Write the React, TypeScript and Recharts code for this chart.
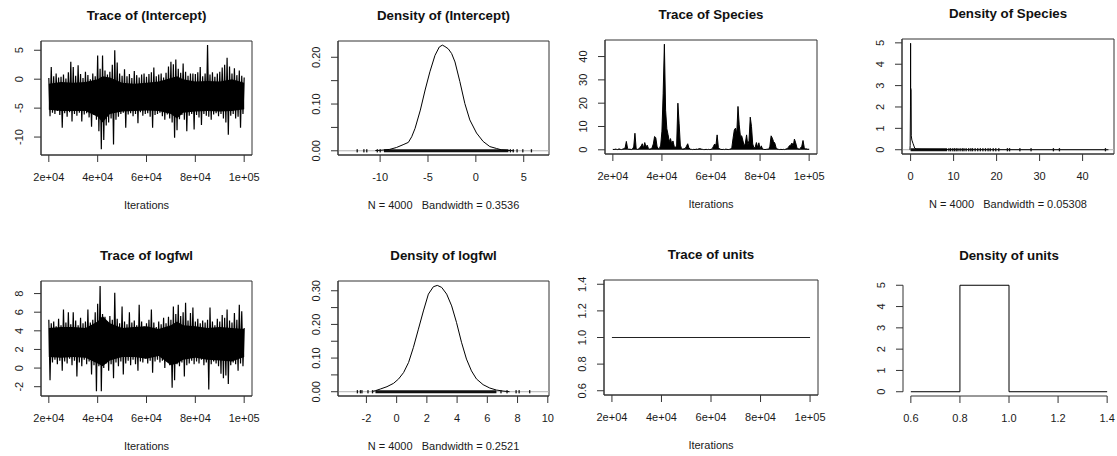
import React from 'react';
import { ComposedChart, Line, Area, XAxis, YAxis, ReferenceLine, ReferenceArea, Scatter } from 'recharts';

const FONT = '"Liberation Sans", Arial, Helvetica, sans-serif';
const INK = '#1a1a1a';
const FRAME = '#333333';

// ---------- data ----------
const iterTicks = [20000, 40000, 60000, 80000, 100000];
const iterTickLabels = ['2e+04', '4e+04', '6e+04', '8e+04', '1e+05'];

// Trace values, one every 500 iterations from 20000 to 100000
const traceIntercept = [
  0.2, -6.4, 2.1, -5.8, 0.5, -6.0, 1.0, -5.5, 0.3, -6.2,
  0.4, -8.4, 0.8, -5.9, 0.1, -6.5, 1.2, -5.7, 3.0, -7.3,
  2.1, -6.0, 0.6, -6.3, 2.4, -5.8, 0.9, -7.3, 0.2, -6.1,
  1.3, -5.9, 0.7, -6.6, 0.0, -8.2, 1.0, -6.2, 0.5, -7.0,
  4.1, -9.0, 1.8, -12.1, 4.1, -10.5, 1.5, -8.0, 0.8, -7.5,
  1.3, -6.8, 2.5, -11.3, 5.0, -7.0, 2.9, -6.5, 1.0, -6.0,
  0.6, -5.8, 1.7, -8.4, 0.5, -6.1, 0.9, -5.9, 0.2, -6.4,
  1.4, -6.0, 0.7, -7.6, 0.3, -5.7, 0.8, -6.3, 1.0, -6.0,
  0.4, -5.9, 0.9, -6.5, 1.2, -8.4, 2.0, -6.2, 0.5, -6.0,
  0.8, -5.8, 1.0, -6.4, 0.3, -7.0, 1.1, -6.1, 2.2, -6.8,
  3.0, -7.5, 2.6, -10.1, 3.4, -8.8, 1.8, -6.9, 1.1, -6.2,
  2.7, -7.0, 1.3, -9.0, 0.6, -6.3, 1.0, -6.0, 1.0, -8.7,
  0.9, -6.2, 1.2, -6.6, 2.1, -7.9, 0.5, -6.0, 1.0, -6.3,
  5.9, -6.5, 0.8, -7.0, 1.2, -6.1, 0.4, -5.9, 1.0, -6.4,
  1.3, -6.0, 2.0, -6.8, 2.5, -7.5, 3.7, -9.6, 2.2, -6.3,
  1.0, -6.0, 1.9, -6.8, 0.7, -6.5, 1.5, -8.4, 0.6, -6.0,
  0.3,
];

// Solid core of the intercept trace band (iterations, low, high)
const coreIter = [20000, 25000, 30000, 35000, 40000, 42000, 45000, 50000, 55000, 60000, 65000, 70000, 72500, 75000, 80000, 85000, 90000, 95000, 100000];
const coreInterceptLow = [-5.3, -5.5, -5.5, -5.5, -6.5, -7.5, -6.0, -5.6, -5.5, -5.4, -5.5, -6.0, -6.8, -5.8, -5.6, -5.5, -5.6, -5.5, -5.2];
const coreInterceptHigh = [-0.8, -0.5, -0.6, -0.5, 0.0, 0.5, 0.3, -0.6, -0.8, -0.6, -0.4, 0.2, 0.5, 0.0, -0.4, -0.3, -0.4, 0.0, -0.6];

const traceSpecies = [
  0.2, 0.1, 0.3, 0.2, 0.1, 0.4, 0.2, 0.1, 0.3, 0.5,
  0.8, 3.6, 0.6, 0.2, 0.3, 0.1, 0.4, 1.2, 7.1, 0.5,
  0.2, 0.3, 1.0, 1.5, 2.6, 0.8, 3.1, 1.2, 2.0, 0.6,
  0.3, 0.4, 1.0, 2.5, 5.7, 5.2, 1.5, 0.4, 0.6, 2.0,
  8.0, 24.0, 45.3, 17.0, 9.0, 6.5, 3.5, 4.8, 2.5, 3.8,
  1.5, 0.8, 2.0, 20.0, 11.4, 2.0, 0.5, 0.3, 0.4, 0.6,
  1.5, 2.6, 0.8, 0.3, 0.2, 0.1, 0.2, 0.1, 0.3, 0.2,
  0.4, 0.5, 0.3, 0.2, 0.1, 0.1, 0.2, 0.1, 0.2, 0.1,
  0.2, 0.5, 1.5, 2.5, 1.8, 6.4, 1.0, 0.4, 0.2, 0.1,
  0.2, 0.1, 0.3, 0.2, 0.1, 0.2, 0.3, 1.0, 5.0, 8.5,
  9.3, 7.0, 18.6, 10.7, 5.7, 6.0, 4.0, 1.5, 2.9, 6.4,
  2.0, 4.0, 14.0, 10.0, 2.5, 0.8, 1.0, 3.1, 1.0, 3.0,
  0.4, 1.7, 0.3, 0.2, 0.1, 0.2, 0.3, 0.2, 1.5, 6.0,
  5.0, 3.5, 2.9, 1.0, 0.3, 0.2, 0.1, 0.2, 0.1, 0.2,
  0.1, 0.3, 0.5, 1.0, 1.8, 2.0, 2.9, 1.5, 4.6, 3.0,
  1.0, 0.4, 0.3, 0.8, 1.5, 4.0, 1.0, 0.3, 0.4, 0.2,
  0.3,
];

const traceLogfwl = [
  5.2, -1.3, 4.8, 0.6, 5.0, 0.9, 4.5, 0.4, 5.3, 0.8,
  4.6, -0.3, 6.3, 0.7, 4.9, 0.5, 6.0, 1.0, 4.7, 0.3,
  6.0, 0.8, 5.1, -0.9, 4.6, 0.6, 5.4, 0.2, 4.8, 0.9,
  5.0, 0.4, 6.3, 0.7, 4.9, -0.7, 5.2, 0.3, 6.0, -2.5,
  6.9, 0.2, 8.8, -2.5, 5.8, 0.0, 5.5, 0.5, 5.0, -0.3,
  5.6, 0.4, 5.2, -1.1, 8.1, 0.6, 5.3, 0.2, 4.8, 0.7,
  6.6, -0.7, 5.0, 0.5, 4.7, 0.8, 6.0, 0.3, 4.9, 0.9,
  5.1, 0.4, 4.6, -0.3, 6.8, 0.7, 5.0, 0.6, 4.5, 1.0,
  4.8, 0.5, 5.2, 0.8, 6.3, -0.5, 4.9, 0.7, 4.4, 0.9,
  5.0, 0.6, 4.7, 0.8, 5.4, 0.0, 4.8, 0.7, 5.5, 0.3,
  5.2, -2.1, 6.6, -1.3, 5.8, 0.4, 6.8, 0.2, 5.6, 0.6,
  6.0, -0.9, 7.0, 0.3, 5.1, 0.5, 5.9, 0.8, 6.5, 0.4,
  5.0, 0.7, 5.3, 0.5, 4.8, 0.9, 5.1, 0.3, 4.9, 0.6,
  5.2, -2.3, 6.5, 0.4, 5.0, 0.7, 4.6, 0.5, 5.3, 0.2,
  5.0, -0.6, 5.7, -1.1, 5.4, -0.8, 6.3, -1.7, 5.1, 0.3,
  4.9, 0.6, 5.9, 0.4, 5.2, -0.3, 6.8, 0.5, 6.1, 0.2,
  4.3,
];

// Solid core of the logfwl trace band
const coreLogfwlLow = [1.2, 1.1, 1.2, 1.1, 0.5, 0.2, 0.8, 1.2, 1.2, 1.0, 1.3, 0.3, 0.5, 0.9, 1.1, 0.9, 0.8, 0.7, 1.2];
const coreLogfwlHigh = [4.3, 4.4, 4.4, 4.3, 5.0, 5.6, 4.8, 4.3, 4.4, 4.5, 4.2, 4.6, 5.0, 4.6, 4.5, 4.3, 4.4, 4.3, 4.2];

const unitsIterations = [20000, 100000];
const traceUnits = [1, 1];

// Density curves (x, density)
const densInterceptX = [-10.5, -10, -9, -8.3, -7.6, -7.05, -6.7, -6.35, -5.8, -5.3, -4.8, -4.27, -3.82, -3.5, -3.23, -2.88, -2.53, -2.18, -1.67, -1.15, -0.63, 0.07, 0.76, 1.46, 2.15, 2.67, 3.2, 4.0];
const densInterceptY = [0.0005, 0.001, 0.003, 0.007, 0.013, 0.018, 0.03, 0.048, 0.087, 0.13, 0.169, 0.204, 0.222, 0.226, 0.223, 0.218, 0.208, 0.19, 0.148, 0.101, 0.066, 0.038, 0.02, 0.009, 0.005, 0.002, 0.001, 0.0];
const rugInterceptDense = [-9.6, 3.4];
const rugInterceptSparse = [-12.4, -11.7, -11.4, -10.3, -10.0, 3.6, 3.9, 4.3, 4.9, 5.8];

const densSpeciesX = [-0.16, -0.1, -0.03, 0.0, 0.02, 0.12, 0.16, 0.3, 0.55, 0.95, 1.3, 2.5, 5, 8.5, 12, 20, 46];
const densSpeciesY = [0, 0.2, 2.0, 4.98, 2.9, 2.8, 0.65, 0.45, 0.3, 0.08, 0.03, 0.02, 0.015, 0.01, 0.005, 0.002, 0];
const rugSpeciesDense = [0, 8.5];
const rugSpeciesSparse = [8.9, 9.3, 9.8, 10.2, 10.6, 11.0, 11.5, 12.0, 12.4, 12.9, 13.5, 14.0, 14.4, 15.0, 15.6, 16.2, 16.8, 17.4, 18.0, 18.5, 19.2, 19.8, 20.5, 22.5, 23.0, 25.4, 28.0, 33.2, 34.6, 45.3];

const densLogfwlX = [-1.6, -1.41, -1.08, -0.64, -0.2, 0.13, 0.46, 0.79, 1.11, 1.44, 1.77, 2.1, 2.43, 2.69, 2.98, 3.31, 3.64, 3.96, 4.29, 4.62, 4.95, 5.28, 5.72, 6.16, 6.6, 7.04, 7.47];
const densLogfwlY = [0.001, 0.003, 0.008, 0.015, 0.025, 0.038, 0.057, 0.087, 0.132, 0.186, 0.24, 0.29, 0.312, 0.316, 0.31, 0.29, 0.255, 0.206, 0.147, 0.097, 0.062, 0.038, 0.021, 0.011, 0.005, 0.002, 0.0];
const rugLogfwlDense = [-1.4, 6.6];
const rugLogfwlSparse = [-2.6, -2.4, -2.3, -1.9, -1.6, 6.9, 7.3, 7.9, 8.1, 8.8];

const unitsHistX = [0.6, 0.8, 0.8, 1.0, 1.0, 1.4];
const unitsHistY = [0, 0, 5, 5, 0, 0];

// ---------- helpers ----------
const traceData = (vals: number[]) => vals.map((y, i) => ({ x: 20000 + i * 500, y }));
const xyData = (xs: number[], ys: number[]) => xs.map((x, i) => ({ x, y: ys[i] }));
const rangeData = (xs: number[], lo: number[], hi: number[]) => xs.map((x, i) => ({ x, range: [lo[i], hi[i]] }));
const rugData = (xs: number[]) => xs.map((x) => ({ x, y: 0 }));
const iterFmt = (v: number) => iterTickLabels[iterTicks.indexOf(v)] ?? String(v);

type Box = { l: number; t: number; r: number; b: number };

const PAD_L = 50;
const PAD_T = 40;
const PAD_R = 30;
const PAD_B = 60;
const X_AXIS_H = 40;
const Y_AXIS_W = 40;

const RugMark = (p: any) => (
  <rect x={p.cx - 0.6} y={p.cy - 1.6} width={1.3} height={3.2} fill="#111" />
);

function Panel(props: {
  box: Box;
  xDomain: [number, number];
  yDomain: [number, number];
  xTicks: number[];
  yTicks: number[];
  yLabels?: number[];
  xFmt: (v: number) => string;
  yFmt: (v: number) => string;
  title: string;
  sub: string;
  boxed: boolean;
  children: React.ReactNode;
}) {
  const { box, xDomain, yDomain, xTicks, yTicks, yLabels, xFmt, yFmt, title, sub, boxed, children } = props;
  const w = box.r - box.l;
  const h = box.b - box.t;
  const W = w + PAD_L + PAD_R;
  const H = h + PAD_T + PAD_B;
  const plotBottom = PAD_T + h;

  const xTick = (p: any) => (
    <text x={p.x} y={plotBottom + 26} textAnchor="middle" fontSize={11} fontFamily={FONT} fill={INK}>
      {xFmt(p.payload.value)}
    </text>
  );
  const yTick = (p: any) => {
    const v = p.payload.value;
    if (yLabels && !yLabels.some((l) => Math.abs(l - v) < 1e-9)) return <g />;
    const cx = PAD_L - 18;
    return (
      <text
        x={cx}
        y={p.y}
        transform={`rotate(-90, ${cx}, ${p.y})`}
        textAnchor="middle"
        fontSize={11}
        fontFamily={FONT}
        fill={INK}
      >
        {yFmt(v)}
      </text>
    );
  };

  return (
    <>
      <div
        style={{
          position: 'absolute',
          left: box.l - 20,
          width: w + 40,
          top: box.t - 33,
          textAlign: 'center',
          fontFamily: FONT,
          fontWeight: 'bold',
          fontSize: 13.3,
          lineHeight: '16px',
          color: '#111',
          whiteSpace: 'pre',
        }}
      >
        {title}
      </div>
      {sub ? (
        <div
          style={{
            position: 'absolute',
            left: box.l - 40,
            width: w + 80,
            top: box.b + 42.5,
            textAlign: 'center',
            fontFamily: FONT,
            fontSize: 11,
            lineHeight: '14px',
            color: INK,
            whiteSpace: 'pre',
          }}
        >
          {sub}
        </div>
      ) : null}
      <div style={{ position: 'absolute', left: box.l - PAD_L, top: box.t - PAD_T, width: W, height: H }}>
        <ComposedChart
          width={W}
          height={H}
          margin={{ top: PAD_T, left: PAD_L - Y_AXIS_W, right: PAD_R, bottom: PAD_B - X_AXIS_H }}
        >
          <XAxis
            type="number"
            dataKey="x"
            domain={xDomain}
            ticks={xTicks}
            allowDataOverflow
            interval={0}
            height={X_AXIS_H}
            tickSize={7}
            tick={xTick}
            tickLine={{ stroke: FRAME }}
            axisLine={boxed ? { stroke: FRAME } : false}
          />
          <YAxis
            type="number"
            dataKey="y"
            domain={yDomain}
            ticks={yTicks}
            allowDataOverflow
            interval={0}
            width={Y_AXIS_W}
            tickSize={7}
            tick={yTick}
            tickLine={{ stroke: FRAME }}
            axisLine={boxed ? { stroke: FRAME } : false}
          />
          {boxed ? (
            <ReferenceArea
              x1={xDomain[0]}
              x2={xDomain[1]}
              y1={yDomain[0]}
              y2={yDomain[1]}
              fill="none"
              fillOpacity={0}
              stroke={FRAME}
              strokeWidth={1}
            />
          ) : null}
          {children}
        </ComposedChart>
      </div>
    </>
  );
}

function DensityExtras(xs: number[], ys: number[], dense: number[], sparse: number[]) {
  return [
    <ReferenceLine key="zero" y={0} stroke="#b0b0b0" strokeWidth={1} />,
    <Line
      key="rug"
      data={rugData(dense)}
      dataKey="y"
      stroke="#111"
      strokeWidth={3}
      dot={false}
      isAnimationActive={false}
    />,
    <Scatter key="rugs" data={rugData(sparse)} shape={RugMark} isAnimationActive={false} />,
    <Line
      key="dens"
      data={xyData(xs, ys)}
      dataKey="y"
      stroke="#000"
      strokeWidth={1}
      dot={false}
      isAnimationActive={false}
    />,
  ];
}

function BandTrace(vals: number[], lo: number[], hi: number[]) {
  return [
    <Area
      key="core"
      data={rangeData(coreIter, lo, hi)}
      dataKey="range"
      type="linear"
      stroke="none"
      fill="#000"
      fillOpacity={1}
      dot={false}
      activeDot={false}
      isAnimationActive={false}
    />,
    <Line
      key="trace"
      data={traceData(vals)}
      dataKey="y"
      stroke="#000"
      strokeWidth={1.2}
      dot={false}
      isAnimationActive={false}
    />,
  ];
}

export default function App() {
  const iterDomain: [number, number] = [16800, 103200];
  return (
    <div
      style={{
        position: 'absolute',
        left: 0,
        top: 0,
        width: 1117,
        height: 456,
        background: '#fff',
        overflow: 'hidden',
        fontFamily: FONT,
      }}
    >
      {/* Row 1 */}
      <Panel
        box={{ l: 41, t: 41, r: 252, b: 155 }}
        xDomain={iterDomain}
        yDomain={[-13.1, 6.6]}
        xTicks={iterTicks}
        yTicks={[-10, -5, 0, 5]}
        xFmt={iterFmt}
        yFmt={(v) => String(v)}
        title="Trace of (Intercept)"
        sub="Iterations"
        boxed
      >
        {BandTrace(traceIntercept, coreInterceptLow, coreInterceptHigh)}
      </Panel>
      <Panel
        box={{ l: 338, t: 41, r: 549, b: 155 }}
        xDomain={[-14.4, 7.64]}
        yDomain={[-0.009, 0.2348]}
        xTicks={[-10, -5, 0, 5]}
        yTicks={[0, 0.05, 0.1, 0.15, 0.2]}
        yLabels={[0, 0.1, 0.2]}
        xFmt={(v) => String(v)}
        yFmt={(v) => v.toFixed(2)}
        title="Density of (Intercept)"
        sub="N = 4000   Bandwidth = 0.3536"
        boxed
      >
        {DensityExtras(densInterceptX, densInterceptY, rugInterceptDense, rugInterceptSparse)}
      </Panel>
      <Panel
        box={{ l: 605, t: 40, r: 817, b: 154 }}
        xDomain={iterDomain}
        yDomain={[-1.8, 47.1]}
        xTicks={iterTicks}
        yTicks={[0, 10, 20, 30, 40]}
        xFmt={iterFmt}
        yFmt={(v) => String(v)}
        title="Trace of Species"
        sub="Iterations"
        boxed
      >
        <Area
          data={traceData(traceSpecies)}
          dataKey="y"
          type="linear"
          baseValue={0}
          stroke="#000"
          strokeWidth={1}
          fill="#000"
          fillOpacity={1}
          dot={false}
          activeDot={false}
          isAnimationActive={false}
        />
      </Panel>
      <Panel
        box={{ l: 902, t: 39, r: 1114, b: 154 }}
        xDomain={[-2.0, 47.3]}
        yDomain={[-0.2, 5.18]}
        xTicks={[0, 10, 20, 30, 40]}
        yTicks={[0, 1, 2, 3, 4, 5]}
        xFmt={(v) => String(v)}
        yFmt={(v) => String(v)}
        title="Density of Species"
        sub="N = 4000   Bandwidth = 0.05308"
        boxed
      >
        {DensityExtras(densSpeciesX, densSpeciesY, rugSpeciesDense, rugSpeciesSparse)}
      </Panel>

      {/* Row 2 */}
      <Panel
        box={{ l: 41, t: 281, r: 252, b: 396 }}
        xDomain={iterDomain}
        yDomain={[-3.0, 9.35]}
        xTicks={iterTicks}
        yTicks={[-2, 0, 2, 4, 6, 8]}
        xFmt={iterFmt}
        yFmt={(v) => String(v)}
        title="Trace of logfwl"
        sub="Iterations"
        boxed
      >
        {BandTrace(traceLogfwl, coreLogfwlLow, coreLogfwlHigh)}
      </Panel>
      <Panel
        box={{ l: 338, t: 281, r: 549, b: 396 }}
        xDomain={[-3.88, 10.08]}
        yDomain={[-0.0127, 0.329]}
        xTicks={[-2, 0, 2, 4, 6, 8, 10]}
        yTicks={[0, 0.05, 0.1, 0.15, 0.2, 0.25, 0.3]}
        yLabels={[0, 0.1, 0.2, 0.3]}
        xFmt={(v) => String(v)}
        yFmt={(v) => v.toFixed(2)}
        title="Density of logfwl"
        sub="N = 4000   Bandwidth = 0.2521"
        boxed
      >
        {DensityExtras(densLogfwlX, densLogfwlY, rugLogfwlDense, rugLogfwlSparse)}
      </Panel>
      <Panel
        box={{ l: 604, t: 280, r: 818, b: 395 }}
        xDomain={iterDomain}
        yDomain={[0.568, 1.432]}
        xTicks={iterTicks}
        yTicks={[0.6, 0.8, 1.0, 1.2, 1.4]}
        xFmt={iterFmt}
        yFmt={(v) => v.toFixed(1)}
        title="Trace of units"
        sub="Iterations"
        boxed
      >
        <Line
          data={xyData(unitsIterations, traceUnits)}
          dataKey="y"
          stroke="#222"
          strokeWidth={1}
          dot={false}
          isAnimationActive={false}
        />
      </Panel>
      <Panel
        box={{ l: 903, t: 281, r: 1115, b: 396 }}
        xDomain={[0.568, 1.432]}
        yDomain={[-0.2, 5.2]}
        xTicks={[0.6, 0.8, 1.0, 1.2, 1.4]}
        yTicks={[0, 1, 2, 3, 4, 5]}
        xFmt={(v) => v.toFixed(1)}
        yFmt={(v) => String(v)}
        title="Density of units"
        sub=""
        boxed={false}
      >
        <ReferenceLine
          segment={[
            { x: 0.6, y: -0.2 },
            { x: 1.4, y: -0.2 },
          ]}
          stroke={FRAME}
        />
        <ReferenceLine
          segment={[
            { x: 0.568, y: 0 },
            { x: 0.568, y: 5 },
          ]}
          stroke={FRAME}
        />
        <Line
          data={xyData(unitsHistX, unitsHistY)}
          dataKey="y"
          stroke="#000"
          strokeWidth={1}
          dot={false}
          isAnimationActive={false}
        />
      </Panel>
    </div>
  );
}
